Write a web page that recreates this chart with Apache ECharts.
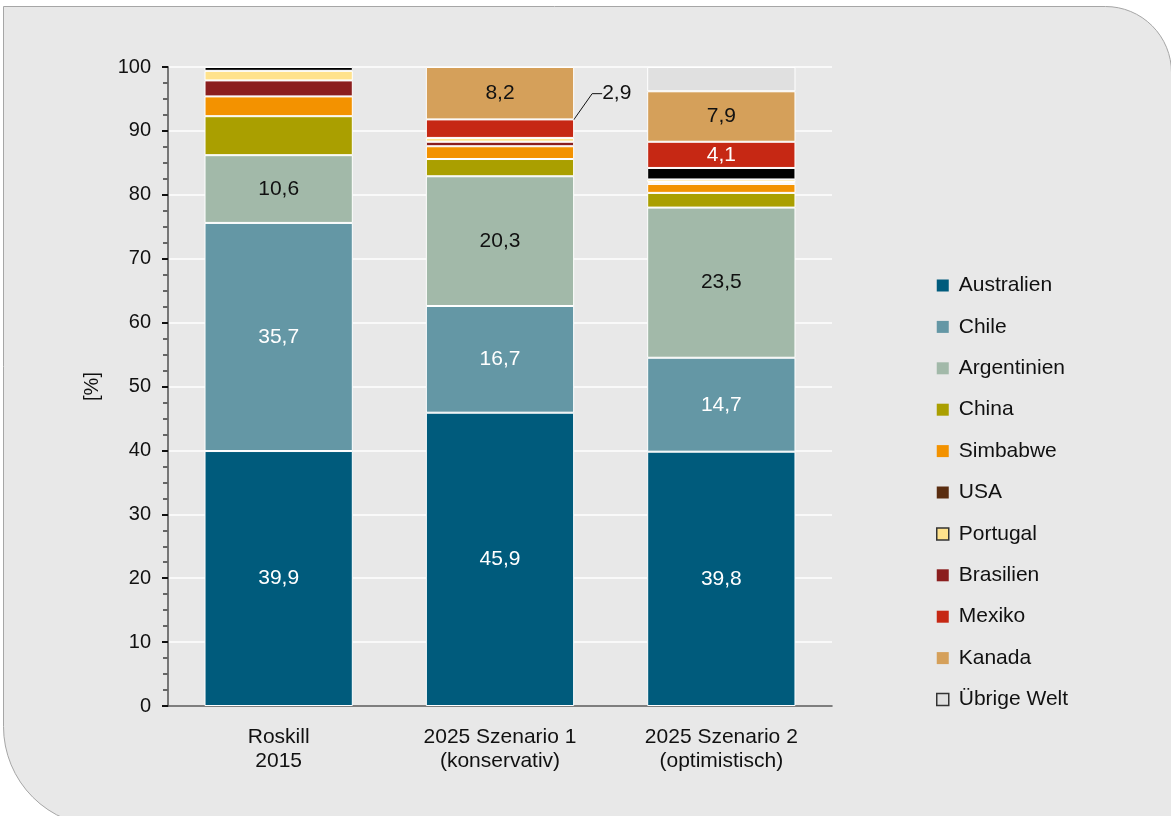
<!DOCTYPE html>
<html>
<head>
<meta charset="utf-8">
<script src="https://cdn.jsdelivr.net/npm/echarts@6/dist/echarts.min.js"></script>
<style>
  html, body { margin: 0; padding: 0; background: #fff; }
  #chart { width: 1171px; height: 816px; }
</style>
</head>
<body>
<div id="chart"></div>
<script>
// Kategorien und Anteile in %
const categories = ['Roskill\n2015', '2025 Szenario 1\n(konservativ)', '2025 Szenario 2\n(optimistisch)'];
const australien = [39.9, 45.9, 39.8];
const chile = [35.7, 16.7, 14.7];
const argentinien = [10.6, 20.3, 23.5];
const china = [6.1, 2.7, 2.3];
const simbabwe = [3.1, 2.0, 1.4];
const brasilien = [2.5, 0.7, 0.3];
const portugal = [1.5, 0.6, 0.4];
const usa = [0.6, 0, 1.8];
const mexiko = [0, 2.9, 4.1];
const kanada = [0, 8.2, 7.9];
const uebrigeWelt = [0, 0, 3.8];
const yTicks = [0, 100, 10];

const legendOrder = ['Australien', 'Chile', 'Argentinien', 'China', 'Simbabwe', 'USA',
    'Portugal', 'Brasilien', 'Mexiko', 'Kanada', 'Übrige Welt'];

const font = '"Liberation Sans", Arial, sans-serif';
const fmt = p => String(p.value).replace('.', ',');

// label: null = keine Beschriftung, sonst Farbe des Textes
function makeSeries(name, values, color, labels){
    return {
        name: name,
        type: 'bar',
        stack: 'total',
        barWidth: '67%',
        itemStyle: { color: color, borderColor: '#fff', borderWidth: 1 },
        data: values.map((v, i) => {
            if (!v) return '-';
            let item = { value: v };
            if (labels && labels[i]) {
                item.label = {
                    show: true,
                    position: 'inside',
                    color: labels[i],
                    fontSize: 21,
                    fontFamily: font,
                    formatter: fmt
                };
            }
            return item;
        })
    };
}

let series = [
    makeSeries('Australien', australien, '#005b7c', ['#fff', '#fff', '#fff']),
    makeSeries('Chile', chile, '#6497a5', ['#fff', '#fff', '#fff']),
    makeSeries('Argentinien', argentinien, '#a2b9a9', ['#111', '#111', '#111']),
    makeSeries('China', china, '#aa9f00'),
    makeSeries('Simbabwe', simbabwe, '#f39200'),
    makeSeries('Brasilien', brasilien, '#8b1e1e'),
    makeSeries('Portugal', portugal, '#ffe28c'),
    makeSeries('USA', usa, '#000000'),
    makeSeries('Mexiko', mexiko, '#c62814', [null, '#111', '#fff']),
    makeSeries('Kanada', kanada, '#d5a05a', [null, '#111', '#111']),
    makeSeries('Übrige Welt', uebrigeWelt, '#e0e0e0')
];

// 2,9 bei Szenario 1 sitzt außerhalb mit Führungslinie
let mex = series[8];
mex.data[1].label.position = 'right';
mex.data[1].label.distance = 0;
mex.labelLayout = function(params){
    if (params.dataIndex === 1) {
        return { dx: 28, dy: -35 };
    }
};
mex.labelLine = { show: true, length2: 10, lineStyle: { color: '#111', width: 1 } };

const legendColors = {
    'Australien': '#005b7c', 'Chile': '#6497a5', 'Argentinien': '#a2b9a9', 'China': '#aa9f00',
    'Simbabwe': '#f39200', 'USA': '#5a2d10', 'Portugal': '#ffe28c', 'Brasilien': '#8b1e1e',
    'Mexiko': '#c62814', 'Kanada': '#d5a05a', 'Übrige Welt': '#e0e0e0'
};

let myChart = echarts.init(document.getElementById('chart'));
let option = {
    backgroundColor: '#fff',
    animation: false,
    textStyle: { fontFamily: font },
    graphic: {
        elements: [{
            type: 'rect',
            z: -10,
            silent: true,
            shape: { x: 3.5, y: 6.5, width: 1168, height: 820, r: [0, 66, 0, 100] },
            style: { fill: '#e8e8e8', stroke: '#a6a6a6', lineWidth: 1 }
        }]
    },
    grid: {
        left: 168,
        right: 339,
        top: 67,
        bottom: 110,
        containLabel: false
    },
    legend: {
        orient: 'vertical',
        left: 931,
        top: 270,
        icon: 'rect',
        itemWidth: 12,
        itemHeight: 12,
        itemGap: 20.4,
        textStyle: { fontSize: 21, color: '#111', fontFamily: font, lineHeight: 12, padding: [0, 0, 0, 5] },
        data: legendOrder.map(n => {
            let it = { name: n, itemStyle: { color: legendColors[n], borderWidth: 0 } };
            if (n === 'Portugal' || n === 'Übrige Welt') {
                it.itemStyle = { color: legendColors[n], borderColor: '#333', borderWidth: 1.5 };
            }
            return it;
        })
    },
    xAxis: {
        type: 'category',
        data: categories,
        axisLine: { lineStyle: { color: '#555', width: 1.5 } },
        axisTick: { alignWithLabel: true, length: 5, lineStyle: { color: '#333', width: 1.5 } },
        axisLabel: { color: '#111', fontSize: 21, fontFamily: font, lineHeight: 24, margin: 19 },
        splitLine: { show: false }
    },
    yAxis: {
        type: 'value',
        min: yTicks[0],
        max: yTicks[1],
        interval: yTicks[2],
        name: '[%]',
        nameLocation: 'middle',
        nameGap: 66,
        nameRotate: 90,
        nameTextStyle: { color: '#111', fontSize: 20, fontFamily: font },
        axisLine: { show: true, lineStyle: { color: '#777', width: 2 } },
        axisTick: { show: true, length: 6, lineStyle: { color: '#111', width: 2 } },
        minorTick: { show: true, splitNumber: 4, length: 5, lineStyle: { color: '#666', width: 2 } },
        axisLabel: { color: '#111', fontSize: 20, fontFamily: font, margin: 17 },
        splitLine: { lineStyle: { color: '#fff', width: 1.5 } }
    },
    series: series
};
myChart.setOption(option);
</script>
</body>
</html>
